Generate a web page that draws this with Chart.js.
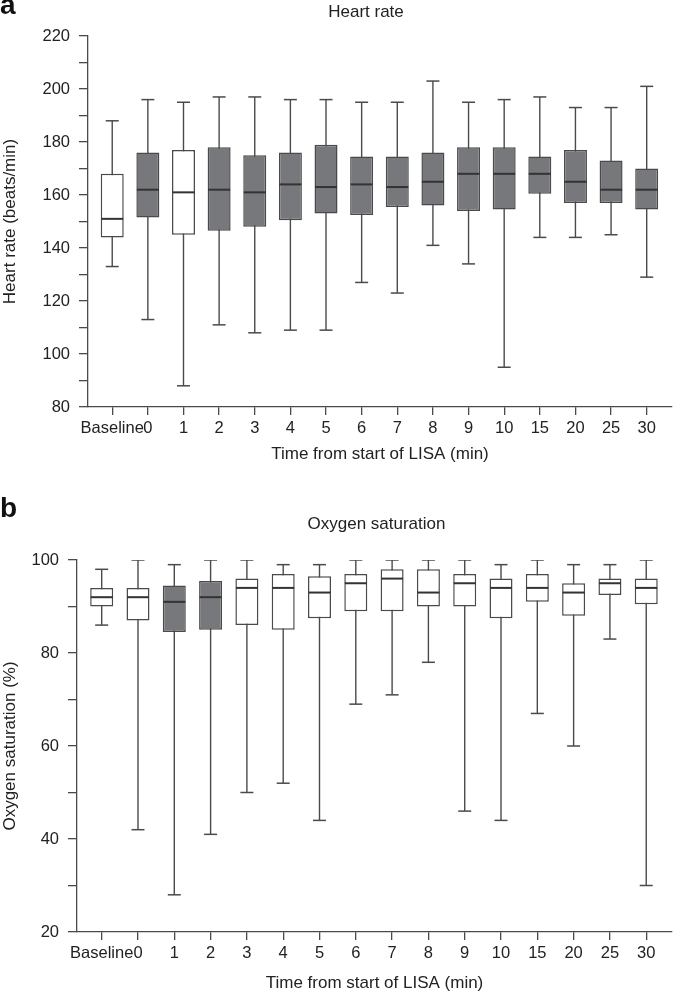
<!DOCTYPE html>
<html lang="en">
<head>
<meta charset="UTF-8">
<title>Heart rate and oxygen saturation during LISA</title>
<script src="https://cdn.jsdelivr.net/npm/chart.js"></script>
<style>
    body { margin: 0; background: #fff; }
    #page { position: relative; width: 685px; height: 994px; }
    .panel { position: absolute; left: 0; width: 685px; }
    .letter { position: absolute; left: 0; font: bold 28px "Liberation Sans", Arial, sans-serif; line-height: 28px; color: #111; }
</style>
</head>
<body>
<div id="page">
    <div class="panel" style="top:0;height:475px"><canvas id="hrChart"></canvas></div>
    <div class="panel" style="top:475px;height:519px"><canvas id="spo2Chart"></canvas></div>
    <div class="letter" style="top:-9px">a</div>
    <div class="letter" style="top:494px">b</div>
</div>

<script>
// time points (min from start of LISA)
const timeLabels = ['Baseline', '0', '1', '2', '3', '4', '5', '6', '7', '8', '9', '10', '15', '20', '25', '30'];

// heart rate (beats/min)
const hrMin    = [133, 113,  88, 111, 108, 109, 109, 127, 123, 141, 134,  95, 144, 144, 145, 129];
const hrQ1     = [144, 151.5, 145, 146.5, 148, 150.5, 153, 152.5, 155.5, 156, 154, 154.5, 160.5, 157, 157, 154.5];
const hrMedian = [151, 162, 161, 162, 161, 164, 163, 164, 163, 165, 168, 168, 168, 165, 162, 162];
const hrQ3     = [168, 176, 177, 178, 175, 176, 179, 174.5, 174.5, 176, 178, 178, 174.5, 177, 173, 170];
const hrMax    = [188, 196, 195, 197, 197, 196, 196, 195, 195, 203, 195, 196, 197, 193, 193, 201];
const hrShaded = [false, true, false, true, true, true, true, true, true, true, true, true, true, true, true, true];

// oxygen saturation (%)
const spo2Min    = [86, 42, 28, 41, 50, 52, 44, 69, 71, 78, 46, 44, 67, 60, 83, 30];
const spo2Q1     = [90, 87, 84.5, 85, 86, 85, 87.5, 89, 89, 90, 90, 87.5, 91, 88, 92.5, 90.5];
const spo2Median = [92, 92, 91, 92, 94, 94, 93, 95, 96, 93, 95, 94, 94, 93, 95, 94];
const spo2Q3     = [94, 94, 94.5, 95.5, 96, 97, 96.5, 97, 98, 98, 97, 96, 97, 95, 96, 96];
const spo2Max    = [98, 100, 99, 100, 100, 99, 99, 100, 100, 100, 100, 99, 100, 99, 99, 100];
const spo2Shaded = [false, false, true, true, false, false, false, false, false, false, false, false, false, false, false, false];

const FONT = '"Liberation Sans", Arial, Helvetica, sans-serif';
const TEXT = '#222';
const LINE = '#4a4a4a';
const FILL = '#77787b';

// moves the chart title sideways (the original is not centred on the plot)
const titleShift = {
    id: 'titleShift',
    afterLayout(chart, args, opts) {
        if (chart.titleBlock && opts.dx) {
            chart.titleBlock.left += opts.dx;
            chart.titleBlock.right += opts.dx;
        }
    }
};

function points(values) {
    return values.map((v, i) => ({ x: i, y: v }));
}

function ranges(lo, hi) {
    return lo.map((v, i) => ({ x: i, y: [v, hi[i]] }));
}

// horizontal strokes (medians, whisker caps) drawn as 'line' point markers
function capSet(values, radius, width, color) {
    return {
        type: 'line',
        order: 0,
        data: points(values),
        showLine: false,
        pointStyle: 'line',
        pointRadius: radius,
        pointHoverRadius: radius,
        pointBorderWidth: width,
        pointBorderColor: color,
        pointBackgroundColor: color
    };
}

function makeBoxChart(id, cfg) {
    const ctx = document.getElementById(id).getContext('2d');
    return new Chart(ctx, {
        type: 'bar',
        data: {
            datasets: [
                {   // whiskers
                    order: 3,
                    data: ranges(cfg.min, cfg.max),
                    grouped: false,
                    maxBarThickness: 1.4,
                    backgroundColor: LINE,
                    borderWidth: 0
                },
                {   // boxes
                    order: 2,
                    data: ranges(cfg.q1, cfg.q3),
                    grouped: false,
                    maxBarThickness: 23,
                    backgroundColor: cfg.shaded.map(s => s ? FILL : '#ffffff'),
                    borderColor: LINE,
                    borderWidth: 1.5,
                    borderSkipped: false
                },
                capSet(cfg.median, 11, 2, '#333'),
                capSet(cfg.max, 6.5, 1.5, LINE),
                capSet(cfg.min, 6.5, 1.5, LINE)
            ]
        },
        options: {
            responsive: true,
            maintainAspectRatio: false,
            animation: false,
            events: [],
            layout: { padding: { left: 0, right: cfg.padRight, top: 0, bottom: 0 } },
            plugins: {
                legend: { display: false },
                tooltip: { enabled: false },
                title: {
                    display: true,
                    text: cfg.title,
                    fullSize: false,
                    color: TEXT,
                    font: { family: FONT, size: 17, weight: 'normal' },
                    padding: cfg.titlePad
                },
                titleShift: { dx: cfg.titleDx }
            },
            scales: {
                x: {
                    type: 'linear',
                    min: -0.68,
                    max: 15.71,
                    offset: false,
                    afterBuildTicks: s => { s.ticks = timeLabels.map((l, i) => ({ value: i })); },
                    afterFit: s => { s.height = cfg.xHeight; },
                    ticks: {
                        autoSkip: false,
                        maxRotation: 0,
                        padding: 4,
                        color: TEXT,
                        font: { family: FONT, size: 16.5 },
                        callback: v => timeLabels[v]
                    },
                    grid: { offset: false, drawOnChartArea: false, drawTicks: true, tickLength: 8, color: LINE, lineWidth: 1.3 },
                    border: { display: true, color: LINE, width: 1.3 },
                    title: {
                        display: true,
                        text: 'Time from start of LISA (min)',
                        color: TEXT,
                        font: { family: FONT, size: 17 },
                        padding: { top: 0, bottom: cfg.xTitleBottom }
                    }
                },
                y: {
                    min: cfg.yMin,
                    max: cfg.yMax,
                    afterFit: s => { s.width = cfg.yWidth; },
                    ticks: {
                        stepSize: 10,
                        padding: 9,
                        color: TEXT,
                        font: { family: FONT, size: 16.5 },
                        callback: v => (v % 20 === 0 ? v : '')
                    },
                    grid: { drawOnChartArea: false, drawTicks: true, tickLength: 9, color: LINE, lineWidth: 1.3 },
                    border: { display: true, color: LINE, width: 1.3 },
                    title: {
                        display: true,
                        text: cfg.yTitle,
                        color: TEXT,
                        font: { family: FONT, size: 17 },
                        padding: { top: 0, bottom: 0 }
                    }
                }
            }
        },
        plugins: [titleShift]
    });
}

makeBoxChart('hrChart', {
    title: 'Heart rate',
    yTitle: 'Heart rate (beats/min)',
    yMin: 80, yMax: 220,
    min: hrMin, q1: hrQ1, median: hrMedian, q3: hrQ3, max: hrMax, shaded: hrShaded,
    yWidth: 88, xHeight: 68, padRight: 2,
    titlePad: { top: 2.3, bottom: 13.3 }, titleDx: -14,
    xTitleBottom: 10
});

makeBoxChart('spo2Chart', {
    title: 'Oxygen saturation',
    yTitle: 'Oxygen saturation (%)',
    yMin: 20, yMax: 100,
    min: spo2Min, q1: spo2Q1, median: spo2Median, q3: spo2Q3, max: spo2Max, shaded: spo2Shaded,
    yWidth: 77, xHeight: 62, padRight: 11,
    titlePad: { top: 38.8, bottom: 25.8 }, titleDx: 2,
    xTitleBottom: 0
});
</script>
</body>
</html>
